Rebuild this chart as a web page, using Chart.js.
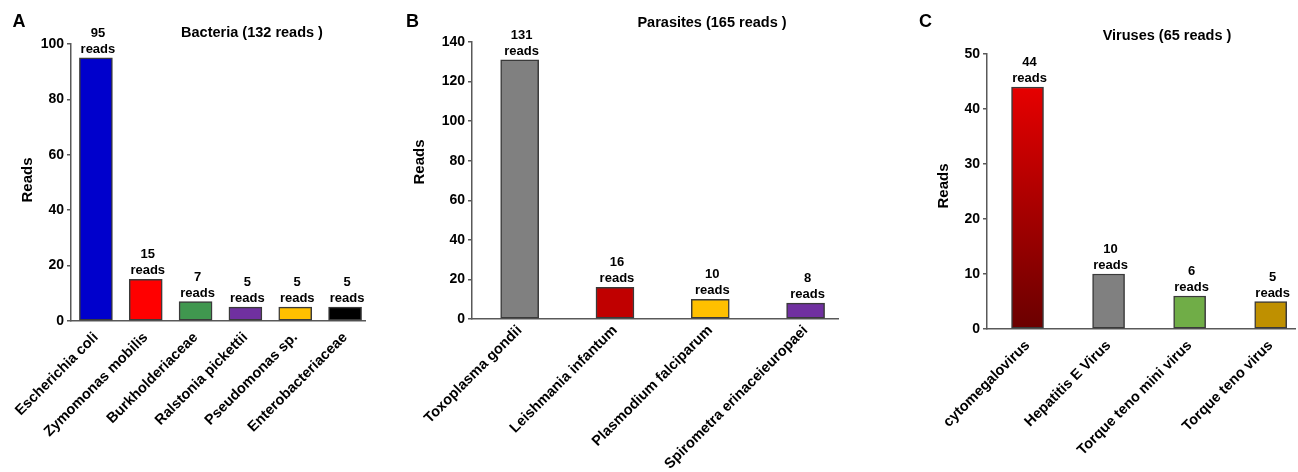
<!DOCTYPE html>
<html><head><meta charset="utf-8">
<script src="https://cdn.jsdelivr.net/npm/chart.js@4.4.1/dist/chart.umd.min.js"></script>
<style>
html,body{margin:0;padding:0;background:#fff;width:1298px;height:472px;overflow:hidden}
canvas{position:absolute;top:0}
</style></head><body>
<canvas id="cA" width="400" height="472" style="left:0px"></canvas>
<canvas id="cB" width="460" height="472" style="left:400px"></canvas>
<canvas id="cC" width="438" height="472" style="left:860px"></canvas>
<script>
// ---- data ----
const bacteriaSpecies = ["Escherichia coli", "Zymomonas mobilis", "Burkholderiaceae", "Ralstonia pickettii", "Pseudomonas sp.", "Enterobacteriaceae"];
const bacteriaReads = [95, 15, 7, 5, 5, 5];
const bacteriaTicks = [0, 20, 40, 60, 80, 100];

const parasiteSpecies = ["Toxoplasma gondii", "Leishmania infantum", "Plasmodium falciparum", "Spirometra erinaceieuropaei"];
const parasiteReads = [131, 16, 10, 8];
const parasiteTicks = [0, 20, 40, 60, 80, 100, 120, 140];

const virusSpecies = ["cytomegalovirus", "Hepatitis E Virus", "Torque teno mini virus", "Torque teno virus"];
const virusReads = [44, 10, 6, 5];
const virusTicks = [0, 10, 20, 30, 40, 50];

const panelTitles = ["Bacteria (132 reads )", "Parasites (165 reads )", "Viruses (65 reads )"];
const panelLetters = ["A", "B", "C"];
const yAxisTitle = "Reads";
const readsWord = "reads";

// ---- styles ----
const bacteriaColors = ["#0000CC", "#FF0000", "#40974F", "#7030A0", "#FFC000", "#000000"];
const parasiteColors = ["#808080", "#C00000", "#FFC000", "#7030A0"];
const virusColors = ["gradient", "#808080", "#70AD47", "#BF9000"];
const FONT = '"Liberation Sans", Arial, Helvetica, sans-serif';
const AXIS = '#595959';
const BAR_BORDER = '#3a3a3a';

const annotate = {
  id: 'annotate',
  afterDatasetsDraw(chart, args, o) {
    const ctx = chart.ctx;
    ctx.save();
    ctx.fillStyle = '#000';
    ctx.textBaseline = 'alphabetic';
    ctx.textAlign = 'center';
    ctx.font = 'bold 13px ' + FONT;
    const meta = chart.getDatasetMeta(0);
    meta.data.forEach((bar, i) => {
      const v = chart.data.datasets[0].data[i].y;
      ctx.fillText(String(v), bar.x + 2, bar.y - 21);
      ctx.fillText(readsWord, bar.x + 2, bar.y - 5);
    });
    ctx.textAlign = 'left';
    ctx.font = 'bold 18px ' + FONT;
    ctx.fillText(o.letter, o.letterX, o.letterY);
    ctx.textAlign = 'center';
    ctx.font = 'bold 14.5px ' + FONT;
    ctx.fillText(o.title, o.titleX, o.titleY);
    ctx.translate(o.yTitleX, o.yTitleY);
    ctx.rotate(-Math.PI / 2);
    ctx.textBaseline = 'middle';
    ctx.font = 'bold 15px ' + FONT;
    ctx.fillText(yAxisTitle, 0, 0);
    ctx.restore();
  }
};

function makePanel(id, cfg) {
  const canvas = document.getElementById(id);
  const W = canvas.width, H = canvas.height;
  const pts = cfg.labels.map((_, i) => ({ x: i, y: cfg.values[i] }));
  return new Chart(canvas, {
    type: 'bar',
    data: {
      datasets: [{
        data: pts,
        barThickness: cfg.barThickness,
        borderWidth: 1.5,
        borderColor: BAR_BORDER,
        borderSkipped: false,
        backgroundColor: (c) => {
          const col = cfg.colors[c.dataIndex];
          if (col !== 'gradient') return col;
          const ch = c.chart;
          if (!ch.chartArea || !ch.scales.y) return '#A00000';
          const ys = ch.scales.y;
          const top = ys.getPixelForValue(cfg.values[c.dataIndex]);
          const bot = ys.getPixelForValue(0);
          const g = ch.ctx.createLinearGradient(0, top, 0, bot);
          g.addColorStop(0, '#E60000');
          g.addColorStop(1, '#6A0000');
          return g;
        }
      }]
    },
    options: {
      responsive: false,
      animation: false,
      devicePixelRatio: 1,
      layout: { padding: { left: 0, top: cfg.area.top, right: W - cfg.area.right, bottom: 0 } },
      plugins: {
        legend: { display: false },
        tooltip: { enabled: false },
        annotate: cfg.annot
      },
      scales: {
        x: {
          type: 'linear',
          offset: false,
          bounds: 'data',
          min: -0.5,
          max: cfg.xMax,
          afterBuildTicks: s => { s.ticks = cfg.labels.map((_, i) => ({ value: i })); },
          afterFit: s => { s.height = H - cfg.area.bottom; },
          grid: { display: false, drawTicks: false, offset: false },
          border: { display: true, color: AXIS, width: 1.5 },
          ticks: {
            autoSkip: false, minRotation: 45, maxRotation: 45, padding: cfg.xPad,
            color: '#000', font: { family: FONT, size: 14.5, weight: 'bold' },
            callback: v => cfg.labels[v]
          }
        },
        y: {
          min: cfg.ticks[0],
          max: cfg.ticks[cfg.ticks.length - 1],
          afterBuildTicks: s => { s.ticks = cfg.ticks.map(v => ({ value: v })); },
          afterFit: s => { s.width = cfg.area.left; },
          grid: { drawOnChartArea: false, drawTicks: true, tickLength: 4, color: AXIS, lineWidth: 1.5 },
          border: { display: true, color: AXIS, width: 1.5 },
          ticks: { padding: 3, color: '#000', font: { family: FONT, size: 14, weight: 'bold' } }
        }
      }
    },
    plugins: [annotate]
  });
}

makePanel('cA', {
  labels: bacteriaSpecies, values: bacteriaReads, colors: bacteriaColors, ticks: bacteriaTicks,
  xMax: 5.4, barThickness: 33, xPad: 8,
  area: { left: 71, top: 44, right: 365, bottom: 321 },
  annot: { letter: panelLetters[0], letterX: 12.5, letterY: 26.7, title: panelTitles[0], titleX: 252, titleY: 36.5, yTitleX: 28, yTitleY: 180 }
});
makePanel('cB', {
  labels: parasiteSpecies, values: parasiteReads, colors: parasiteColors, ticks: parasiteTicks,
  xMax: 3.34, barThickness: 38, xPad: 3,
  area: { left: 72, top: 42, right: 438, bottom: 319 },
  annot: { letter: panelLetters[1], letterX: 6, letterY: 26.7, title: panelTitles[1], titleX: 312, titleY: 27, yTitleX: 20, yTitleY: 162 }
});
makePanel('cC', {
  labels: virusSpecies, values: virusReads, colors: virusColors, ticks: virusTicks,
  xMax: 3.3, barThickness: 32, xPad: 8,
  area: { left: 127, top: 54, right: 435, bottom: 329 },
  annot: { letter: panelLetters[2], letterX: 59, letterY: 26.7, title: panelTitles[2], titleX: 307, titleY: 40, yTitleX: 84, yTitleY: 186 }
});
</script>
</body></html>
